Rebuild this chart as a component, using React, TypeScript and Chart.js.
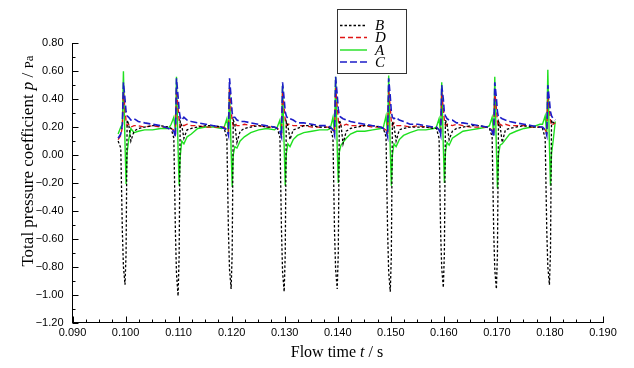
import React, { useEffect, useRef } from "react";
import { Chart, registerables } from "chart.js";

Chart.register(...registerables);

// ---- data ----
const SERIES_LABELS = ["B", "D", "A", "C"];
// times of the pressure peaks (s)
const PEAK_TIMES = [0.0996, 0.1096, 0.1196, 0.1296, 0.1396, 0.1496, 0.1596, 0.1696, 0.1796];
// sample offsets relative to each peak (in 1e-4 s)
const SAMPLE_OFFSETS = [-10, -5, -2, 0, 3, 5, 7, 10, 14, 20, 28, 40, 55, 70, 85];

const B_VALUES = [
  [0.10, 0.05, -0.55, -0.80, -0.93, -0.70, 0.25, 0.22, 0.10, 0.17, 0.19, 0.20, 0.21, 0.21, 0.20],
  [0.19, 0.12, -0.55, -0.85, -1.01, -0.72, 0.24, 0.21, 0.12, 0.18, 0.19, 0.20, 0.21, 0.21, 0.20],
  [0.19, 0.12, -0.56, -0.82, -0.96, -0.70, 0.25, 0.22, 0.09, 0.17, 0.19, 0.20, 0.21, 0.20, 0.20],
  [0.19, 0.13, -0.55, -0.84, -0.98, -0.71, 0.24, 0.21, 0.11, 0.18, 0.19, 0.21, 0.21, 0.20, 0.20],
  [0.19, 0.12, -0.56, -0.82, -0.96, -0.70, 0.25, 0.22, 0.08, 0.17, 0.19, 0.20, 0.21, 0.21, 0.20],
  [0.19, 0.13, -0.55, -0.84, -0.98, -0.72, 0.24, 0.21, 0.10, 0.18, 0.19, 0.20, 0.20, 0.20, 0.19],
  [0.19, 0.12, -0.56, -0.81, -0.95, -0.70, 0.25, 0.22, 0.11, 0.17, 0.19, 0.20, 0.21, 0.21, 0.20],
  [0.19, 0.13, -0.55, -0.82, -0.96, -0.71, 0.24, 0.21, 0.09, 0.18, 0.19, 0.20, 0.21, 0.20, 0.20],
  [0.19, 0.12, -0.54, -0.80, -0.93, -0.69, 0.25, 0.23, 0.24],
];
const D_VALUES = [
  [0.11, 0.14, 0.20, 0.45, 0.33, 0.24, 0.21, 0.22, 0.20, 0.21, 0.21, 0.20, 0.21, 0.20, 0.20],
  [0.19, 0.18, 0.15, 0.47, 0.34, 0.25, 0.20, 0.22, 0.21, 0.22, 0.21, 0.21, 0.20, 0.20, 0.20],
  [0.20, 0.18, 0.16, 0.48, 0.33, 0.24, 0.21, 0.23, 0.21, 0.21, 0.22, 0.21, 0.21, 0.20, 0.20],
  [0.19, 0.18, 0.15, 0.46, 0.34, 0.25, 0.21, 0.22, 0.22, 0.21, 0.21, 0.21, 0.20, 0.20, 0.20],
  [0.20, 0.18, 0.16, 0.48, 0.35, 0.25, 0.20, 0.22, 0.21, 0.22, 0.21, 0.21, 0.21, 0.20, 0.20],
  [0.19, 0.18, 0.15, 0.47, 0.34, 0.24, 0.21, 0.23, 0.21, 0.21, 0.21, 0.20, 0.21, 0.20, 0.20],
  [0.20, 0.18, 0.16, 0.45, 0.33, 0.25, 0.21, 0.22, 0.22, 0.21, 0.22, 0.21, 0.20, 0.20, 0.20],
  [0.19, 0.18, 0.15, 0.46, 0.34, 0.24, 0.20, 0.22, 0.21, 0.22, 0.21, 0.21, 0.21, 0.20, 0.20],
  [0.20, 0.18, 0.16, 0.45, 0.33, 0.25, 0.21, 0.22, 0.23],
];
const A_VALUES = [
  [0.15, 0.20, 0.22, 0.60, 0.08, -0.21, 0.02, 0.11, 0.19, 0.16, 0.17, 0.18, 0.18, 0.19, 0.19],
  [0.22, 0.27, 0.17, 0.56, 0.05, -0.22, -0.01, 0.10, 0.08, 0.13, 0.15, 0.19, 0.20, 0.20, 0.19],
  [0.20, 0.26, 0.15, 0.48, 0.04, -0.23, 0.00, 0.06, 0.05, 0.10, 0.13, 0.16, 0.18, 0.19, 0.18],
  [0.20, 0.25, 0.14, 0.50, 0.06, -0.22, 0.01, 0.08, 0.06, 0.11, 0.14, 0.16, 0.17, 0.18, 0.18],
  [0.19, 0.27, 0.15, 0.56, 0.05, -0.20, 0.02, 0.07, 0.09, 0.12, 0.15, 0.17, 0.17, 0.18, 0.19],
  [0.20, 0.28, 0.14, 0.57, 0.04, -0.22, 0.00, 0.08, 0.06, 0.11, 0.14, 0.16, 0.18, 0.18, 0.19],
  [0.20, 0.26, 0.15, 0.52, 0.06, -0.20, 0.02, 0.09, 0.07, 0.12, 0.14, 0.17, 0.18, 0.19, 0.20],
  [0.21, 0.27, 0.14, 0.56, 0.05, -0.24, 0.00, 0.07, 0.08, 0.11, 0.15, 0.17, 0.19, 0.20, 0.22],
  [0.22, 0.28, 0.15, 0.61, 0.06, -0.22, 0.01, 0.10, 0.24],
];
const C_VALUES = [
  [0.12, 0.15, 0.22, 0.52, 0.40, 0.31, 0.28, 0.27, 0.25, 0.26, 0.24, 0.23, 0.22, 0.21, 0.19],
  [0.18, 0.17, 0.13, 0.55, 0.42, 0.32, 0.27, 0.25, 0.27, 0.25, 0.24, 0.23, 0.22, 0.21, 0.20],
  [0.19, 0.18, 0.14, 0.55, 0.41, 0.30, 0.27, 0.27, 0.25, 0.24, 0.24, 0.23, 0.22, 0.21, 0.20],
  [0.19, 0.17, 0.13, 0.52, 0.40, 0.31, 0.28, 0.26, 0.26, 0.25, 0.23, 0.23, 0.22, 0.21, 0.21],
  [0.20, 0.18, 0.14, 0.56, 0.43, 0.33, 0.28, 0.27, 0.26, 0.25, 0.24, 0.23, 0.22, 0.21, 0.20],
  [0.19, 0.17, 0.13, 0.55, 0.42, 0.31, 0.27, 0.26, 0.27, 0.25, 0.24, 0.22, 0.22, 0.21, 0.20],
  [0.20, 0.18, 0.14, 0.50, 0.40, 0.30, 0.28, 0.26, 0.25, 0.25, 0.23, 0.23, 0.22, 0.21, 0.20],
  [0.19, 0.17, 0.13, 0.52, 0.41, 0.31, 0.27, 0.27, 0.26, 0.25, 0.24, 0.23, 0.22, 0.21, 0.20],
  [0.20, 0.18, 0.14, 0.50, 0.39, 0.31, 0.28, 0.26, 0.25],
];

const X_MIN = 0.09, X_MAX = 0.19, X_STEP = 0.01, X_MINOR_DIV = 4;
const Y_MIN = -1.2, Y_MAX = 0.8, Y_STEP = 0.2, Y_MINOR_DIV = 2;

function buildPoints(rows: number[][]) {
  const pts: { x: number; y: number }[] = [];
  rows.forEach((row, p) => {
    row.forEach((v, i) => {
      pts.push({ x: PEAK_TIMES[p] + SAMPLE_OFFSETS[i] * 1e-4, y: v });
    });
  });
  return pts;
}

const SERF = '"Liberation Serif", "Times New Roman", serif';
const SANS = '"Liberation Sans", Arial, sans-serif';

type Part = { t: string; f: string };
function drawRich(ctx: CanvasRenderingContext2D, parts: Part[], cx: number, cy: number) {
  let total = 0;
  parts.forEach((p) => {
    ctx.font = p.f;
    total += ctx.measureText(p.t).width;
  });
  let x = cx - total / 2;
  ctx.textAlign = "left";
  ctx.textBaseline = "alphabetic";
  parts.forEach((p) => {
    ctx.font = p.f;
    ctx.fillText(p.t, x, cy);
    x += ctx.measureText(p.t).width;
  });
}

const decorPlugin = {
  id: "decor",
  afterDraw(chart: any) {
    const { ctx, chartArea } = chart;
    const { left, right, top, bottom } = chartArea;
    ctx.save();
    ctx.setLineDash([]);
    ctx.strokeStyle = "#000";
    ctx.lineWidth = 1;
    // x ticks (inward)
    const nx = Math.round(((X_MAX - X_MIN) / X_STEP) * X_MINOR_DIV);
    for (let i = 0; i <= nx; i++) {
      const px = Math.round(left + ((right - left) * i) / nx) + 0.5;
      const len = i % X_MINOR_DIV === 0 ? 6 : 3;
      ctx.beginPath();
      ctx.moveTo(px, bottom);
      ctx.lineTo(px, bottom - len);
      ctx.stroke();
    }
    const ny = Math.round(((Y_MAX - Y_MIN) / Y_STEP) * Y_MINOR_DIV);
    for (let i = 0; i <= ny; i++) {
      const py = Math.round(bottom - ((bottom - top) * i) / ny) + 0.5;
      const len = i % Y_MINOR_DIV === 0 ? 6 : 3;
      ctx.beginPath();
      ctx.moveTo(left, py);
      ctx.lineTo(left + len, py);
      ctx.stroke();
    }

    // legend
    const lx = 337.5, ly = 9.5, lw = 69, lh = 64;
    ctx.fillStyle = "#fff";
    ctx.fillRect(lx, ly, lw, lh);
    ctx.strokeStyle = "#333";
    ctx.strokeRect(lx, ly, lw, lh);
    const rowsY = [25.5, 37.5, 50, 62];
    chart.data.datasets.forEach((ds: any, i: number) => {
      const yy = rowsY[i];
      ctx.strokeStyle = ds.borderColor;
      ctx.lineWidth = ds.borderWidth;
      ctx.setLineDash(ds.borderDash || []);
      ctx.beginPath();
      ctx.moveTo(340, yy);
      ctx.lineTo(367, yy);
      ctx.stroke();
      ctx.setLineDash([]);
      ctx.fillStyle = "#000";
      ctx.font = `italic 15px ${SERF}`;
      ctx.textAlign = "left";
      ctx.textBaseline = "middle";
      ctx.fillText(ds.label, 375, yy + 1);
    });

    // axis titles
    ctx.fillStyle = "#000";
    drawRich(
      ctx,
      [
        { t: "Flow time ", f: `16px ${SERF}` },
        { t: "t", f: `italic 16px ${SERF}` },
        { t: " / s", f: `16px ${SERF}` },
      ],
      337,
      357
    );
    ctx.save();
    ctx.translate(32.5, 161);
    ctx.rotate(-Math.PI / 2);
    drawRich(
      ctx,
      [
        { t: "Total pressure coefficient ", f: `17px ${SERF}` },
        { t: "p", f: `italic 17px ${SERF}` },
        { t: " / ", f: `17px ${SERF}` },
        { t: "Pa", f: `13px ${SERF}` },
      ],
      0,
      0
    );
    ctx.restore();
    ctx.restore();
  },
};

export default function App() {
  const ref = useRef<HTMLCanvasElement | null>(null);
  useEffect(() => {
    if (!ref.current) return;
    const chart = new Chart(ref.current, {
      type: "line",
      data: {
        datasets: [
          {
            label: SERIES_LABELS[0],
            data: buildPoints(B_VALUES),
            borderColor: "#000000",
            borderWidth: 1.3,
            borderDash: [2.5, 2],
            order: 1,
          },
          {
            label: SERIES_LABELS[1],
            data: buildPoints(D_VALUES),
            borderColor: "#e01515",
            borderWidth: 1.3,
            borderDash: [5, 3],
            order: 2,
          },
          {
            label: SERIES_LABELS[2],
            data: buildPoints(A_VALUES),
            borderColor: "#1fe01f",
            borderWidth: 1.4,
            order: 3,
          },
          {
            label: SERIES_LABELS[3],
            data: buildPoints(C_VALUES),
            borderColor: "#1c1cc8",
            borderWidth: 1.6,
            borderDash: [7, 3],
            order: 0,
          },
        ] as any,
      },
      options: {
        responsive: false,
        animation: false,
        maintainAspectRatio: false,
        layout: { padding: { top: 43.3, right: 31, bottom: 0, left: 0 } },
        elements: { point: { radius: 0 }, line: { tension: 0, fill: false } },
        plugins: { legend: { display: false }, tooltip: { enabled: false } },
        scales: {
          x: {
            type: "linear",
            min: X_MIN,
            max: X_MAX,
            grid: { display: false, drawTicks: false, tickLength: 0 },
            border: { display: true, color: "#000", width: 1 },
            ticks: {
              stepSize: X_STEP,
              autoSkip: false,
              maxRotation: 0,
              padding: 4,
              color: "#000",
              font: { family: SANS, size: 11 },
              callback: (v: any) => Number(v).toFixed(3),
            },
            afterFit: (s: any) => {
              s.height = 45.5;
            },
          },
          y: {
            type: "linear",
            min: Y_MIN,
            max: Y_MAX,
            grid: { display: false, drawTicks: false, tickLength: 0 },
            border: { display: true, color: "#000", width: 1 },
            ticks: {
              stepSize: Y_STEP,
              autoSkip: false,
              padding: 9,
              color: "#000",
              font: { family: SANS, size: 11 },
              callback: (v: any) => {
                const n = Number(v);
                if (Math.abs(n) < 1e-9) return "0.00";
                return n.toFixed(2).replace("-", "\u2212");
              },
            },
            afterFit: (s: any) => {
              s.width = 72.5;
            },
          },
        },
      } as any,
      plugins: [decorPlugin],
    });
    return () => chart.destroy();
  }, []);
  return (
    <div style={{ position: "fixed", left: 0, top: 0, width: 634, height: 368, background: "#fff" }}>
      <canvas ref={ref} width={634} height={368} style={{ display: "block" }} />
    </div>
  );
}
